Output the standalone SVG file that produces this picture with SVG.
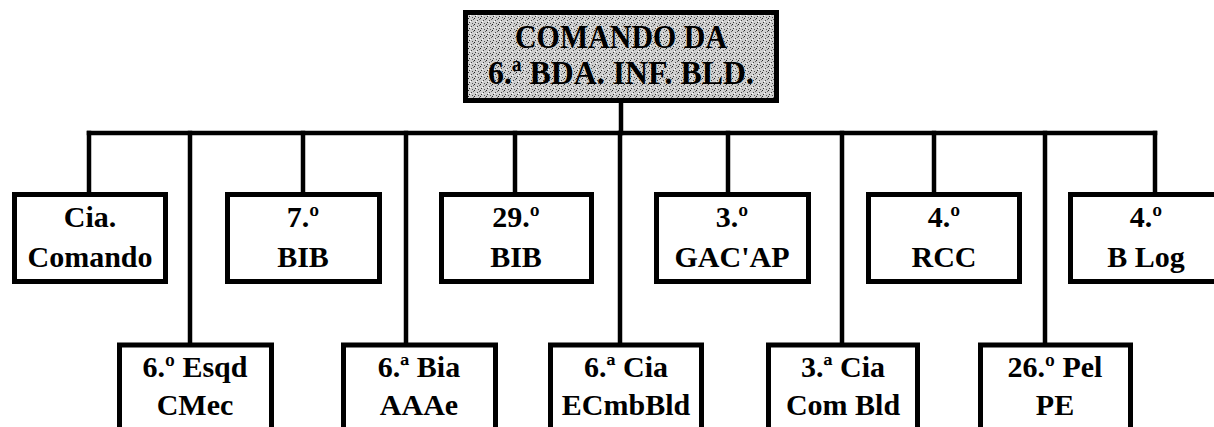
<svg xmlns="http://www.w3.org/2000/svg" width="1214" height="427" viewBox="0 0 1214 427">
<defs>
<pattern id="stip" width="6" height="6" patternUnits="userSpaceOnUse">
<rect width="6" height="6" fill="#cfcfcf"/>
<rect x="0" y="0" width="1" height="1" fill="#222"/>
<rect x="3" y="2" width="1" height="1" fill="#444"/>
<rect x="1" y="4" width="1" height="1" fill="#333"/>
<rect x="4" y="5" width="1" height="1" fill="#555"/>
<rect x="5" y="1" width="1" height="1" fill="#666"/>
<rect x="2" y="3" width="1" height="1" fill="#fff"/>
</pattern>
</defs>
<style>
.box{fill:#fff;stroke:#000;stroke-width:5}
.top{fill:url(#stip);stroke:#000;stroke-width:5}
.t{font-family:"Liberation Serif","Times New Roman",serif;font-weight:bold;font-size:30px;fill:#000;text-anchor:middle}
.tt{font-family:"Liberation Serif","Times New Roman",serif;font-weight:bold;font-size:34px;fill:#000;text-anchor:middle}
.c{stroke:#000;stroke-width:4.5;fill:none;stroke-linecap:square}
</style>
<rect width="1214" height="427" fill="#fff"/>
<g id="connectors">
<line class="c" x1="621" y1="103" x2="621" y2="133"/>
<line class="c" x1="89" y1="133" x2="1155" y2="133"/>
<line class="c" x1="89" y1="133" x2="89" y2="192"/>
<line class="c" x1="303" y1="133" x2="303" y2="192"/>
<line class="c" x1="515" y1="133" x2="515" y2="192"/>
<line class="c" x1="728" y1="133" x2="728" y2="192"/>
<line class="c" x1="934" y1="133" x2="934" y2="192"/>
<line class="c" x1="1155" y1="133" x2="1155" y2="192"/>
<line class="c" x1="190" y1="133" x2="190" y2="342"/>
<line class="c" x1="406" y1="133" x2="406" y2="342"/>
<line class="c" x1="620" y1="133" x2="620" y2="342"/>
<line class="c" x1="842" y1="133" x2="842" y2="342"/>
<line class="c" x1="1045" y1="133" x2="1045" y2="342"/>
</g>
<g id="n-comando">
<rect class="top" x="465.5" y="12.5" width="311" height="88"/>
<text class="tt" x="621" y="48" textLength="212" lengthAdjust="spacingAndGlyphs">COMANDO DA</text>
<text class="tt" x="621" y="84" textLength="266" lengthAdjust="spacingAndGlyphs">6.ª BDA. INF. BLD.</text>
</g>
<g id="n-cia-comando">
<rect class="box" x="14.5" y="194.5" width="151" height="87"/>
<text class="t" x="90" y="227">Cia.</text>
<text class="t" x="90" y="267">Comando</text>
</g>
<g id="n-7bib">
<rect class="box" x="227.5" y="194.5" width="152" height="87"/>
<text class="t" x="303" y="227">7.º</text>
<text class="t" x="303" y="267">BIB</text>
</g>
<g id="n-29bib">
<rect class="box" x="441.5" y="194.5" width="150" height="87"/>
<text class="t" x="516" y="227">29.º</text>
<text class="t" x="516" y="267">BIB</text>
</g>
<g id="n-3gac">
<rect class="box" x="656.5" y="194.5" width="152" height="87"/>
<text class="t" x="732" y="227">3.º</text>
<text class="t" x="732" y="267">GAC'AP</text>
</g>
<g id="n-4rcc">
<rect class="box" x="868.5" y="194.5" width="151" height="87"/>
<text class="t" x="944" y="227">4.º</text>
<text class="t" x="944" y="267">RCC</text>
</g>
<g id="n-4blog">
<rect class="box" x="1070.5" y="194.5" width="151" height="87"/>
<text class="t" x="1146" y="227">4.º</text>
<text class="t" x="1146" y="267">B Log</text>
</g>
<g id="n-6esqd">
<rect class="box" x="119.5" y="345" width="152" height="90"/>
<text class="t" x="195" y="377">6.º Esqd</text>
<text class="t" x="195" y="415">CMec</text>
</g>
<g id="n-6bia">
<rect class="box" x="343.5" y="345" width="152" height="90"/>
<text class="t" x="419" y="377">6.ª Bia</text>
<text class="t" x="419" y="415">AAAe</text>
</g>
<g id="n-6cia">
<rect class="box" x="550.5" y="345" width="151" height="90"/>
<text class="t" x="626" y="377">6.ª Cia</text>
<text class="t" x="626" y="415">ECmbBld</text>
</g>
<g id="n-3cia">
<rect class="box" x="768.5" y="345" width="149" height="90"/>
<text class="t" x="843" y="377">3.ª Cia</text>
<text class="t" x="843" y="415">Com Bld</text>
</g>
<g id="n-26pel">
<rect class="box" x="980.5" y="345" width="150" height="90"/>
<text class="t" x="1055" y="377">26.º Pel</text>
<text class="t" x="1055" y="415">PE</text>
</g>
</svg>
